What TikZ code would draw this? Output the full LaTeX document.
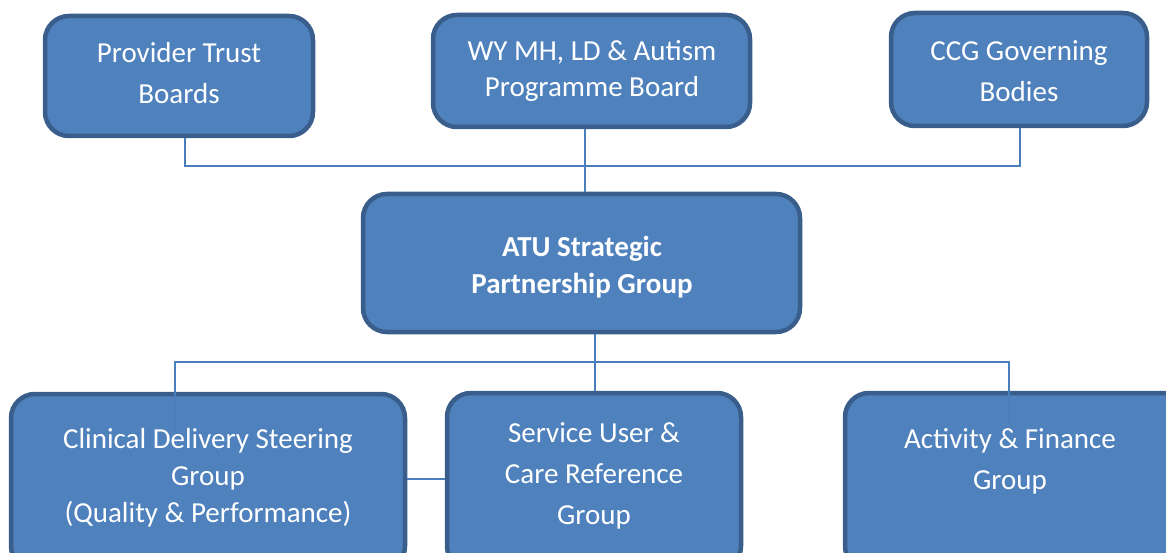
\documentclass[tikz,border=0pt]{standalone}
\usepackage{fontspec}
\setmainfont{Carlito}
\definecolor{boxfill}{HTML}{4F81BD}
\definecolor{boxedge}{HTML}{3A5E8C}
\definecolor{linkcol}{HTML}{4A7EBB}
\begin{document}
\begin{tikzpicture}[x=1pt,y=-1pt,
  orgbox/.style={draw=boxedge,fill=boxfill,line width=4.5pt,rounded corners=24pt},
  boxtext/.style={text=white,align=center,font=\fontsize{29}{41}\selectfont},
  boldtext/.style={text=white,align=center,font=\fontsize{29}{37}\selectfont\bfseries},
  link/.style={draw=linkcol,line width=1.6pt}]
\useasboundingbox (0,0) rectangle (1166,553);

% boxes
\draw[orgbox] (45,16) rectangle (313,136);
\draw[orgbox] (433,15) rectangle (750,127);
\draw[orgbox] (891,13) rectangle (1147,126);
\draw[orgbox] (363,194) rectangle (800,332);
\draw[orgbox] (11,394) rectangle (405,570);
\draw[orgbox] (447,393) rectangle (741,570);
\draw[orgbox] (845,393) rectangle (1190,570);

\coordinate (ptb) at (185,138);
\coordinate (wyb) at (585,129);
\coordinate (ccg) at (1020,128);
\coordinate (atut) at (585,192);
\coordinate (atub) at (595,334);
\coordinate (sut) at (595,391);
\coordinate (cds) at (175,430);
\coordinate (afg) at (1009,425);
\coordinate (cdr) at (407,479);
\coordinate (sul) at (445,479);

% connectors
\draw[link] (ptb) |- (ccg |- 0,166) -- (ccg);
\draw[link] (wyb) -- (atut);
\draw[link] (atub) -- (sut);
\draw[link] (cds) |- (afg |- 0,362) -- (afg);
\draw[link] (cdr) -- (sul);

% labels
\node[boxtext] (ptbt) at (179,73) {Provider Trust\\Boards};
\node[text=white,align=center,font=\fontsize{29}{36}\selectfont] (wyt) at (592,71) {WY MH, LD \& Autism\\Programme Board};
\node[boxtext] (ccgt) at (1019,71) {CCG Governing\\Bodies};
\node[boldtext] (atut2) at (582,267) {ATU Strategic\\Partnership Group};
\node[text=white,align=center,font=\fontsize{29}{37}\selectfont] (cdst) at (208,478) {Clinical Delivery Steering\\Group\\(Quality \& Performance)};
\node[boxtext] (sutx) at (594,476) {Service User \&\\Care Reference\\Group};
\node[boxtext] (afgt) at (1010,461) {Activity \& Finance\\Group};
\end{tikzpicture}
\end{document}
